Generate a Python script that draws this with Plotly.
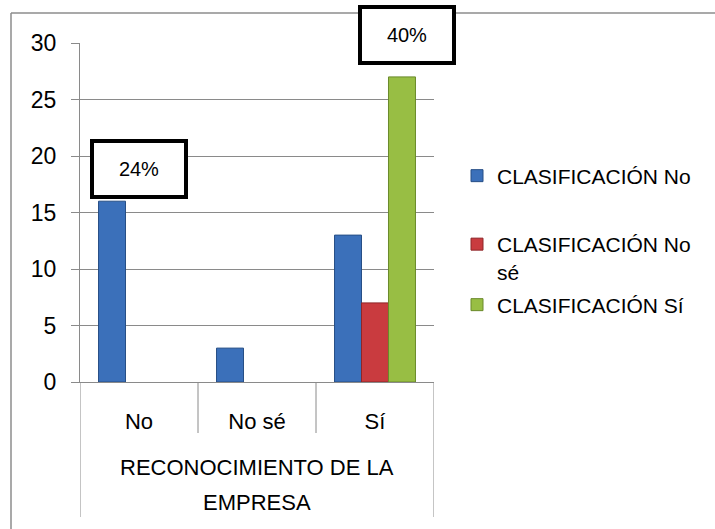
import plotly.graph_objects as go

categories = ["No", "No sé", "Sí"]
series_names = ["CLASIFICACIÓN No", "CLASIFICACIÓN No<br>sé", "CLASIFICACIÓN Sí"]
values_no = [16, 3, 13]
values_nose = [None, None, 7]
values_si = [None, None, 27]
y_ticks = [0, 5, 10, 15, 20, 25, 30]
pct_labels = ["24%", "40%"]
pct_cats = ["No", "Sí"]
pct_vals = [16, 27]
axis_title_lines = ["RECONOCIMIENTO DE LA", "EMPRESA"]

W, H = 715, 529
FONT = "Liberation Sans"
GRID = "#8a8a8a"

def px_x(p):
    return p / W

def px_y(p):
    return (H - p) / H

colors = ["#3B70BA", "#C93B3F", "#98BE44"]
edges = ["#274f86", "#8e2628", "#6a8a2a"]
legends = ["legend", "legend2", "legend3"]

fig = go.Figure()
for name, vals, c, e, lg in zip(series_names, [values_no, values_nose, values_si], colors, edges, legends):
    fig.add_trace(go.Bar(
        x=categories, y=vals, name=name,
        marker=dict(color=c, line=dict(color=e, width=1)),
        legend=lg,
    ))

xd = [px_x(80), px_x(434)]
yd = [px_y(382), px_y(43)]

fig.update_layout(
    width=W, height=H,
    margin=dict(l=0, r=0, t=0, b=0, autoexpand=False),
    paper_bgcolor="white", plot_bgcolor="white",
    barmode="group", bargap=0.314, bargroupgap=0,
    font=dict(family=FONT, size=22, color="black"),
    xaxis=dict(domain=xd, range=[-0.5, 2.5], showgrid=False, automargin=False,
               showline=True, linecolor=GRID, linewidth=1,
               ticks="", tickfont=dict(size=22), ticklabelstandoff=20,
               fixedrange=True),
    yaxis=dict(domain=yd, range=[0, 30], tickvals=y_ticks, automargin=False,
               showgrid=True, gridcolor=GRID, gridwidth=1,
               showline=True, linecolor=GRID, linewidth=1,
               ticks="outside", ticklen=8, tickcolor=GRID, tickwidth=1,
               tickfont=dict(size=23), ticklabelstandoff=10,
               zeroline=False),
    legend=dict(x=px_x(457), y=px_y(176), yanchor="middle", xanchor="left",
                bgcolor="rgba(0,0,0,0)", font=dict(size=21)),
    legend2=dict(x=px_x(457), y=px_y(258), yanchor="middle", xanchor="left",
                 bgcolor="rgba(0,0,0,0)", font=dict(size=21), valign="top"),
    legend3=dict(x=px_x(457), y=px_y(305), yanchor="middle", xanchor="left",
                 bgcolor="rgba(0,0,0,0)", font=dict(size=21)),
    showlegend=True,
)

shapes = []
# category separators
for xv in [0.5, 1.5]:
    shapes.append(dict(type="line", xref="x", yref="paper", x0=xv, x1=xv,
                       y0=px_y(382), y1=px_y(433), line=dict(color=GRID, width=1)))
for xv in [-0.5, 2.5]:
    shapes.append(dict(type="line", xref="x", yref="paper", x0=xv, x1=xv,
                       y0=px_y(382), y1=px_y(517), line=dict(color=GRID, width=1)))
# outer chart border (top and left edges visible)
shapes.append(dict(type="line", xref="paper", yref="paper",
                   x0=px_x(11), x1=1.0, y0=px_y(13), y1=px_y(13),
                   line=dict(color="#8c8c8c", width=1.5)))
shapes.append(dict(type="line", xref="paper", yref="paper",
                   x0=px_x(11), x1=px_x(11), y0=px_y(13), y1=0,
                   line=dict(color="#8c8c8c", width=1.5)))
fig.update_layout(shapes=shapes)

annotations = []
shifts = [(0, 32), (32, 42)]
for t, c, v, (xs, ys) in zip(pct_labels, pct_cats, pct_vals, shifts):
    annotations.append(dict(x=c, y=v, xref="x", yref="y", text=t, showarrow=False,
                            font=dict(size=20, family=FONT), bgcolor="white",
                            bordercolor="black", borderwidth=4, borderpad=0,
                            width=90, height=52, xshift=xs, yshift=ys))
for i, line in enumerate(axis_title_lines):
    annotations.append(dict(x=0.5, y=px_y([467, 502][i]), xref="x domain", yref="paper",
                            text=line, showarrow=False, font=dict(size=22, family=FONT),
                            yanchor="middle"))
fig.update_layout(annotations=annotations)

fig.write_html("out.html")
